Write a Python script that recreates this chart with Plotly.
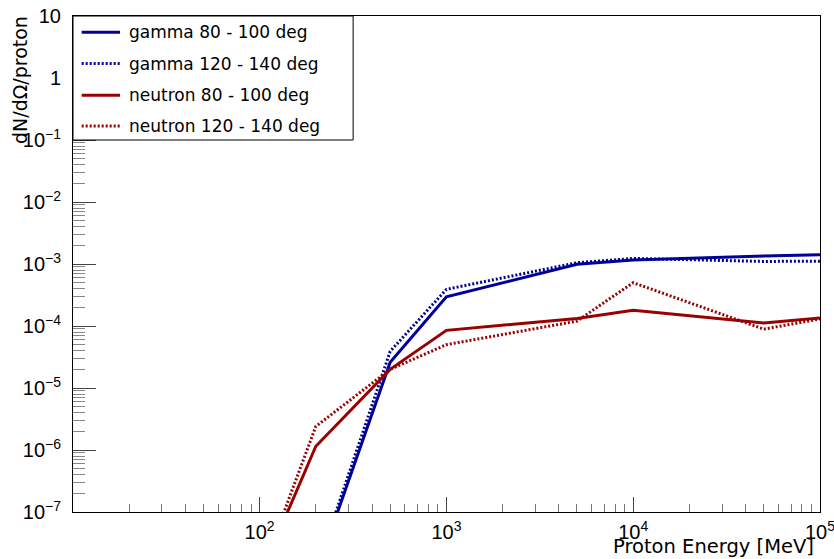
import plotly.graph_objects as go

# ---- data ----
energy_mev = [100, 200, 500, 1000, 5000, 10000, 50000, 100000]

gamma_80_100 = [1e-9, 1.0e-8, 2.6e-5, 2.95e-4, 9.9e-4, 1.16e-3, 1.34e-3, 1.41e-3]
gamma_120_140 = [1e-9, 1.1e-8, 3.9e-5, 3.9e-4, 1.05e-3, 1.23e-3, 1.10e-3, 1.11e-3]
neutron_80_100 = [9e-9, 1.15e-6, 2.0e-5, 8.5e-5, 1.32e-4, 1.8e-4, 1.12e-4, 1.35e-4]
neutron_120_140 = [8.7e-9, 2.4e-6, 2.0e-5, 5.0e-5, 1.2e-4, 5.0e-4, 8.9e-5, 1.3e-4]

series_names = ["gamma 80 - 100 deg", "gamma 120 - 140 deg",
                "neutron 80 - 100 deg", "neutron 120 - 140 deg"]
series_values = [gamma_80_100, gamma_120_140, neutron_80_100, neutron_120_140]

# tick labels
x_tick_vals = [1e2, 1e3, 1e4, 1e5]
x_tick_text = ["10<sup>2</sup>", "10<sup>3</sup>", "10<sup>4</sup>", "10<sup>5</sup>"]
y_tick_vals = [1e-7, 1e-6, 1e-5, 1e-4, 1e-3, 1e-2, 1e-1, 1, 10]
y_tick_text = ["10<sup>−7</sup>", "10<sup>−6</sup>", "10<sup>−5</sup>", "10<sup>−4</sup>",
               "10<sup>−3</sup>", "10<sup>−2</sup>", "10<sup>−1</sup>", "1", "10"]

BLUE = "#000099"
RED = "#990000"
DOT = "2px,2px"
styles = [(BLUE, "solid"), (BLUE, DOT), (RED, "solid"), (RED, DOT)]

FONT = "DejaVu Sans"
TICKFONT = "Liberation Sans"

fig = go.Figure()
for name, vals, (col, dash) in zip(series_names, series_values, styles):
    fig.add_trace(go.Scatter(
        x=energy_mev, y=vals, mode="lines", name=name,
        line=dict(color=col, width=3, dash=dash),
        showlegend=False,
    ))

axis_common = dict(
    type="log", showline=True, linecolor="black", linewidth=1, mirror=True,
    ticks="inside", tickcolor="#444", tickmode="array",
    showgrid=False, zeroline=False, automargin=False,
    ticklabeloverflow="allow",
    tickfont=dict(family=TICKFONT, size=20, color="black"),
)

fig.update_xaxes(**axis_common, range=[1.001, 5], ticklen=15, ticklabelstandoff=2,
                 tickvals=x_tick_vals, ticktext=x_tick_text,
                 minor=dict(ticks="inside", ticklen=8, tickcolor="#777",
                            dtick="D1", showgrid=False))
fig.update_yaxes(**axis_common, range=[-7, 1], ticklen=23, ticklabelstandoff=7,
                 tickvals=y_tick_vals, ticktext=y_tick_text,
                 minor=dict(ticks="inside", ticklen=12, tickcolor="#888",
                            dtick="D1", showgrid=False))

# ---- manual ROOT-style legend ----
leg_x0, leg_x1, leg_y0, leg_y1 = 0.0, 0.375, 0.75, 1.0
fig.add_shape(type="rect", xref="paper", yref="paper",
              x0=leg_x0, x1=leg_x1, y0=leg_y0, y1=leg_y1,
              line=dict(color="black", width=1), fillcolor="white", layer="above")
row_y = [0.967, 0.904, 0.840, 0.778]
for ry, name, (col, dash) in zip(row_y, series_names, styles):
    fig.add_shape(type="line", xref="paper", yref="paper",
                  x0=0.0116, x1=0.0629, y0=ry, y1=ry,
                  line=dict(color=col, width=3, dash=dash), layer="above")
    fig.add_annotation(xref="paper", yref="paper", x=0.0726, y=ry,
                       xanchor="left", yanchor="middle", showarrow=False,
                       text=name, font=dict(family=FONT, size=17, color="black"))

# ---- axis titles ----
fig.add_annotation(xref="paper", yref="paper", x=0.994, y=-0.069,
                   xanchor="right", yanchor="middle", showarrow=False,
                   text="Proton Energy [MeV]",
                   font=dict(family=FONT, size=19.5, color="black"))
fig.add_annotation(xref="paper", yref="paper", x=-0.071, y=1.004,
                   xanchor="center", yanchor="top", showarrow=False,
                   textangle=-90, text="dN/dΩ/proton",
                   font=dict(family=FONT, size=19, color="black"))

fig.update_layout(
    width=834, height=559,
    margin=dict(l=73, r=14, t=16, b=47),
    paper_bgcolor="white", plot_bgcolor="white",
    font=dict(family=FONT, color="black"),
    showlegend=False,
)

fig.write_html("out.html", config={"displayModeBar": False},
               post_script="document.body.style.margin='0';document.body.style.overflow='hidden';")
